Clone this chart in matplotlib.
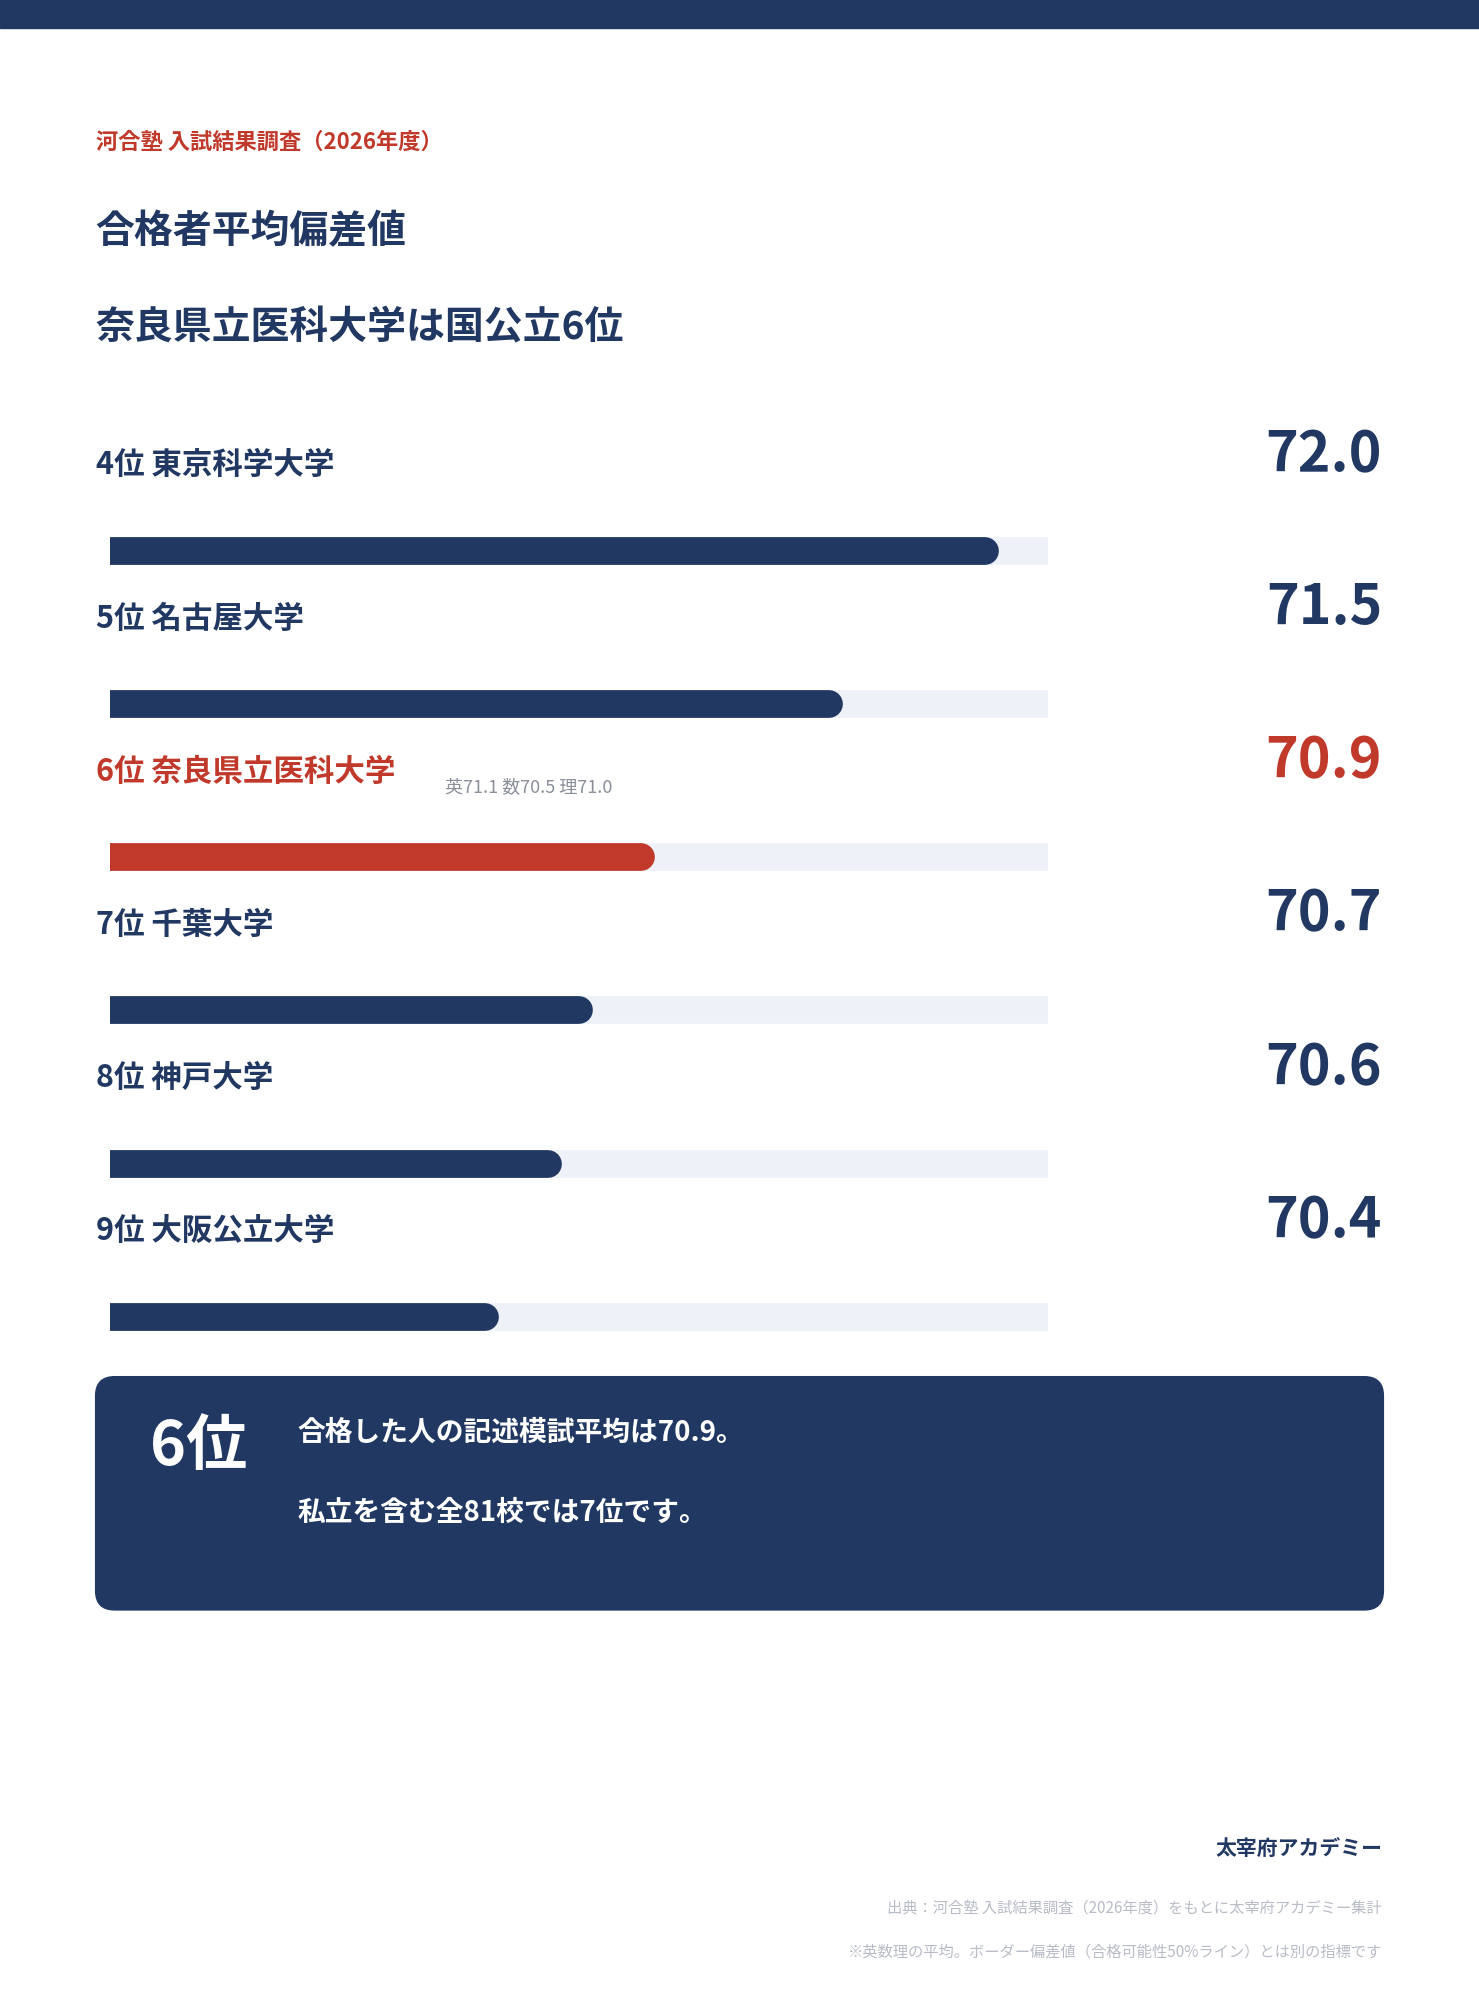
import matplotlib
matplotlib.use("Agg")
import matplotlib.pyplot as plt
from matplotlib.patches import FancyBboxPatch, Rectangle

plt.rcParams['font.family'] = ['Noto Sans CJK JP', 'DejaVu Sans']

ranks = ["4位", "5位", "6位", "7位", "8位", "9位"]
schools = ["東京科学大学", "名古屋大学", "奈良県立医科大学", "千葉大学", "神戸大学", "大阪公立大学"]
values = [72.0, 71.5, 70.9, 70.7, 70.6, 70.4]
highlight = "奈良県立医科大学"
subject_note = "英71.1 数70.5 理71.0"
xmin, xmax = 69.2, 72.2

NAVY = "#213862"
RED = "#c0392b"
TRACK = "#eef1f8"
GRAY = "#8a8f99"
LIGHT = "#b8bcc6"

W, H = 1160, 1569
fig = plt.figure(figsize=(14.79, 20.0), dpi=100)
ax = fig.add_axes([0, 0, 1, 1])
ax.set_xlim(0, W); ax.set_ylim(H, 0); ax.axis('off')

ax.add_patch(Rectangle((0, 0), W, 22, color=NAVY))
ax.text(75, 112, "河合塾 入試結果調査（2026年度）", color=RED, fontsize=16, fontweight='bold', va='center')
ax.text(75, 182, "合格者平均偏差値", color=NAVY, fontsize=28, fontweight='bold', va='center')
ax.text(75, 257, "奈良県立医科大学は国公立6位", color=NAVY, fontsize=28, fontweight='bold', va='center')

for i, (r, s, v) in enumerate(zip(ranks, schools, values)):
    yl = 365 + 120.2 * i
    yb = 432 + 120.2 * i
    c = RED if s == highlight else NAVY
    ax.text(75, yl, f"{r} {s}", color=c, fontsize=22, fontweight='bold', va='center')
    if s == highlight:
        ax.text(349, yl + 12, subject_note, color=GRAY, fontsize=13, va='center')
    ax.text(1084, yl - 8, f"{v:.1f}", color=c, fontsize=40, fontweight='bold', va='center', ha='right')
    # bar axes
    left, right = 86, 822
    bax = fig.add_axes([left / W, 1 - (yb + 15) / H, (right - left) / W, 30 / H])
    bax.set_xlim(xmin, xmax); bax.set_ylim(-1, 1); bax.axis('off')
    bax.plot([xmin, xmax], [0, 0], color=TRACK, lw=20, solid_capstyle='round')
    bax.plot([xmin, v], [0, 0], color=c, lw=20, solid_capstyle='round')

ax.add_patch(FancyBboxPatch((75, 1080), 1010, 183, boxstyle="round,pad=0,rounding_size=15",
                            color=NAVY, mutation_aspect=1))
ax.text(118, 1135, "6位", color='white', fontsize=44, fontweight='bold', va='center')
ax.text(233, 1124, "合格した人の記述模試平均は70.9。", color='white', fontsize=20, fontweight='bold', va='center')
ax.text(233, 1187, "私立を含む全81校では7位です。", color='white', fontsize=20, fontweight='bold', va='center')

ax.text(1084, 1450, "太宰府アカデミー", color=NAVY, fontsize=15, fontweight='bold', va='center', ha='right')
ax.text(1084, 1497, "出典：河合塾 入試結果調査（2026年度）をもとに太宰府アカデミー集計", color=LIGHT, fontsize=11, va='center', ha='right')
ax.text(1084, 1531, "※英数理の平均。ボーダー偏差値（合格可能性50%ライン）とは別の指標です", color=LIGHT, fontsize=11, va='center', ha='right')

fig.savefig("out.png", dpi=100, facecolor='white')
